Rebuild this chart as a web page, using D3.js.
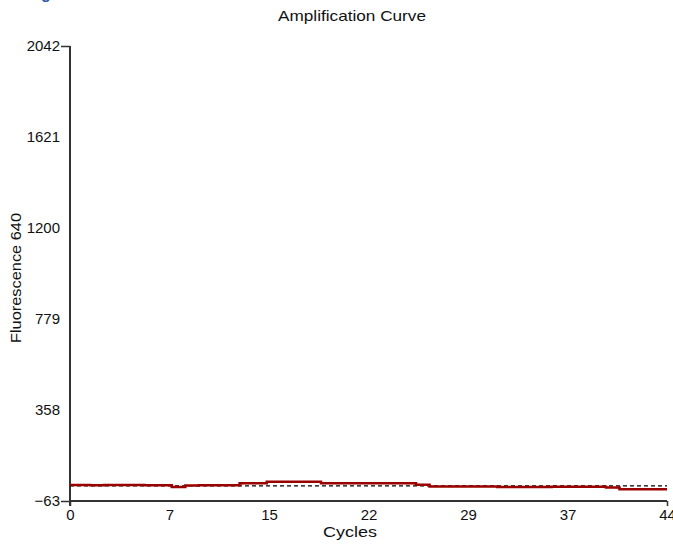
<!DOCTYPE html>
<html>
<head>
<meta charset="utf-8">
<script src="https://cdn.jsdelivr.net/npm/d3@7"></script>
<style>
  html, body { margin: 0; padding: 0; background: #fff; }
  svg { display: block; font-family: "Liberation Sans", Arial, sans-serif; }
</style>
</head>
<body>
<svg id="chart" width="673" height="547"></svg>
<script>
// ---- data ----
const cycles = d3.range(0, 45);
const sampleValues = [11, 11, 10, 11, 11, 11, 10, 10, 2, 9, 10, 10, 10, 19, 19, 26, 26, 26, 26, 19,
                      19, 19, 19, 19, 19, 19, 12, 4, 4, 4, 4, 4, 2, 2, 2, 2, 3, 3, 3, 3,
                      0, -9, -9, -9, -9];
const referenceValues = [7, 7, 7, 7, 7, 7, 7, 7, 7, 7, 7, 7, 7, 7, 7, 7, 7, 7, 7, 7,
                         7, 7, 7, 7, 7, 7, 7, 7, 7, 7, 7, 7, 7, 7, 7, 7, 7, 7, 7, 7,
                         7, 7, 7, 7, 7];
const yTickValues = [-63, 358, 779, 1200, 1621, 2042];
const xTickPositions = [0, 44/6, 88/6, 22, 176/6, 220/6, 44];
const xTickLabels = ["0", "7", "15", "22", "29", "37", "44"];
const titleText = "Amplification Curve";
const xLabel = "Cycles";
const yLabel = "Fluorescence 640";

// ---- layout ----
const svg = d3.select("#chart");
const mLeft = 70, mRight = 667, mTop = 46, mBottom = 501;
const fontStack = "Liberation Sans, Arial, sans-serif";

const x = d3.scaleLinear().domain([0, 44]).range([mLeft, mRight]);
const y = d3.scaleLinear().domain([-63, 2042]).range([mBottom, mTop]);

// fragment of cut-off heading
svg.append("text").attr("x", 41).attr("y", -1)
  .attr("font-size", 16).attr("font-weight", "bold").attr("fill", "#2a5caa").text("g");

// title
svg.append("text").attr("x", 352).attr("y", 21).attr("text-anchor", "middle")
  .attr("font-size", 14.5).attr("fill", "#111")
  .attr("textLength", 148).attr("lengthAdjust", "spacingAndGlyphs").text(titleText);

// y axis
const yAxis = svg.append("g").attr("transform", `translate(${mLeft},0)`)
  .call(d3.axisLeft(y).tickValues(yTickValues).tickSize(9).tickPadding(1).tickFormat(d3.format("d")));
yAxis.select(".domain").remove();
yAxis.selectAll(".tick line").attr("stroke", "#333").attr("stroke-width", 1.5)
  .attr("display", d => (d === -63 || d === 2042) ? null : "none");
yAxis.selectAll(".tick text").attr("font-size", 15).attr("fill", "#111")
  .attr("font-family", fontStack);
svg.append("line").attr("x1", mLeft).attr("x2", mLeft).attr("y1", mTop).attr("y2", mBottom + 5)
  .attr("stroke", "#333").attr("stroke-width", 2);

// x axis
const xAxis = svg.append("g").attr("transform", `translate(0,${mBottom})`)
  .call(d3.axisBottom(x).tickValues(xTickPositions).tickSize(5).tickPadding(3)
    .tickFormat((d, i) => xTickLabels[i]));
xAxis.select(".domain").remove();
xAxis.selectAll(".tick line").attr("stroke", "#333").attr("stroke-width", 1.5)
  .attr("display", (d, i) => (i === 0 || i === xTickPositions.length - 1) ? null : "none");
xAxis.selectAll(".tick text").attr("font-size", 15).attr("fill", "#111")
  .attr("font-family", fontStack);
svg.append("line").attr("x1", mLeft).attr("x2", mRight).attr("y1", mBottom).attr("y2", mBottom)
  .attr("stroke", "#333").attr("stroke-width", 2);

// axis labels
svg.append("text").attr("x", 350).attr("y", 537).attr("text-anchor", "middle")
  .attr("font-size", 14.5).attr("fill", "#111")
  .attr("textLength", 54).attr("lengthAdjust", "spacingAndGlyphs").text(xLabel);
svg.append("text").attr("transform", "translate(21,278) rotate(-90)").attr("text-anchor", "middle")
  .attr("font-size", 14.5).attr("fill", "#111")
  .attr("textLength", 130).attr("lengthAdjust", "spacingAndGlyphs").text(yLabel);

// curves
const stepLine = d3.line().x((d, i) => x(cycles[i])).y(d => y(d)).curve(d3.curveStep);
const straight = d3.line().x((d, i) => x(cycles[i])).y(d => y(d));

svg.append("path").datum(referenceValues).attr("d", straight)
  .attr("fill", "none").attr("stroke", "#000").attr("stroke-width", 1.3)
  .attr("stroke-dasharray", "4,3");
svg.append("path").datum(sampleValues).attr("d", straight)
  .attr("fill", "none").attr("stroke", "#c04040").attr("stroke-width", 1).attr("opacity", 0.8);
svg.append("path").datum(sampleValues).attr("d", stepLine)
  .attr("fill", "none").attr("stroke", "#9b0000").attr("stroke-width", 2.5);
</script>
</body>
</html>
